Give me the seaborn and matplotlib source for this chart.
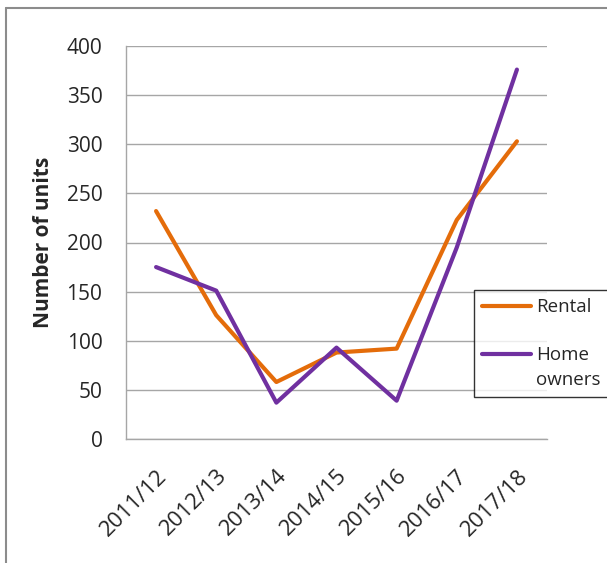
import numpy as np
import pandas as pd
import seaborn as sns
import matplotlib.pyplot as plt
from matplotlib.lines import Line2D

years = ["2011/12", "2012/13", "2013/14", "2014/15", "2015/16", "2016/17", "2017/18"]
rental = [232, 126, 58, 88, 92, 223, 303]
home_owners = [175, 151, 37, 93, 39, 195, 376]
series_names = ["Rental", "Home\nowners"]
series_colors = ["#E46C0A", "#7030A0"]

df = pd.DataFrame({
    "year": years * 2,
    "pos": list(range(len(years))) * 2,
    "units": rental + home_owners,
    "series": [series_names[0]] * len(years) + [series_names[1]] * len(years),
})

sns.set_style("white")
plt.rcParams["font.family"] = ["Open Sans", "DejaVu Sans"]

fig = plt.figure(figsize=(6.07, 5.63), dpi=100)
ax = fig.add_axes([126 / 607, 1 - 439 / 563, 421 / 607, 393 / 563])

sns.lineplot(data=df, x="pos", y="units", hue="series", palette=series_colors,
             linewidth=3, ax=ax, legend=False)

grid_color = "#A6A6A6"
ax.set_ylim(0, 400)
ax.set_yticks(np.arange(0, 401, 50))
ax.set_xlim(-0.5, len(years) - 0.5)
ax.set_xticks(range(len(years)))
ax.set_xticklabels(years, rotation=45, ha="right", rotation_mode="anchor", fontsize=16)
ax.set_xticks(np.arange(-0.5, len(years), 1), minor=True)
ax.tick_params(axis="x", which="major", length=0, pad=19)
ax.tick_params(axis="x", which="minor", length=5, color=grid_color, width=1, direction="out")
ax.tick_params(axis="y", length=5, color=grid_color, width=1, direction="out", labelsize=15, pad=12)
ax.yaxis.grid(True, color=grid_color, linewidth=1)
ax.set_axisbelow(True)
for s in ["top", "right"]:
    ax.spines[s].set_visible(False)
for s in ["left", "bottom"]:
    ax.spines[s].set_color(grid_color)
    ax.spines[s].set_linewidth(1)
ax.set_xlabel("")
ax.set_ylabel("Number of units", fontsize=15, fontweight="bold", labelpad=9)

# legend box, partly cut off at the right edge like the original
handles = [plt.Line2D([], [], color=c, linewidth=3) for c in series_colors]
leg = fig.legend(handles, series_names, loc="upper left",
                 bbox_to_anchor=(474 / 607, 1 - 290 / 563), frameon=True,
                 fancybox=False, edgecolor="black", fontsize=13.5,
                 handlelength=2.6, handletextpad=0.25, labelspacing=1.6,
                 borderaxespad=0, borderpad=0.45)
leg.get_frame().set_linewidth(1)
for t in leg.get_texts():
    t.set_linespacing(1.45)
# put the "Home owners" swatch next to the first line of its label
home_line = leg.legend_handles[1]
home_line.set_ydata(np.asarray(home_line.get_ydata()) + 10)

# outer chart border (left and top only, the rest is cropped)
border = "#8C8C8C"
fig.add_artist(Line2D([6 / 607, 6 / 607], [0, 1 - 8 / 563], transform=fig.transFigure,
                      color=border, linewidth=1.5))
fig.add_artist(Line2D([6 / 607, 1], [1 - 8 / 563, 1 - 8 / 563], transform=fig.transFigure,
                      color=border, linewidth=1.5))

fig.savefig("out.png", dpi=100)
